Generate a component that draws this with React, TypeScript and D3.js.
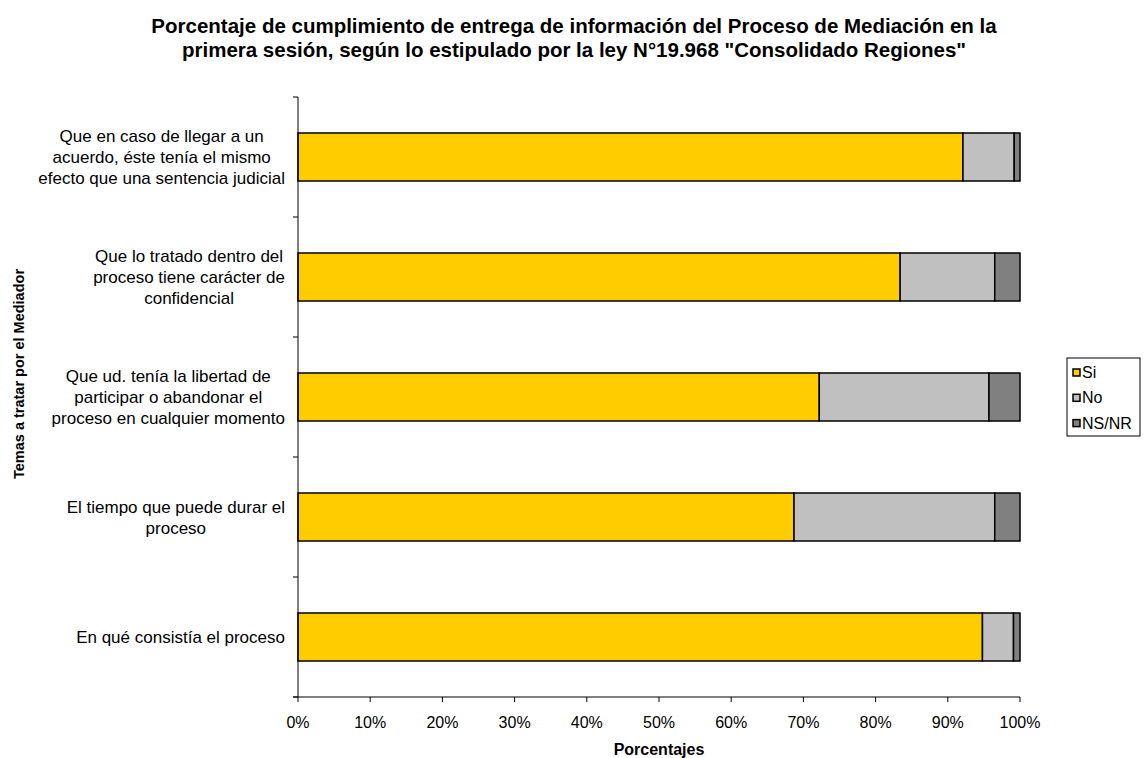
import React from "react";
import * as d3 from "d3";

const categories = [
  ["Que en caso de llegar a un", "acuerdo, éste tenía el mismo", "efecto que una sentencia judicial"],
  ["Que lo tratado dentro del", "proceso tiene carácter de", "confidencial"],
  ["Que ud. tenía la libertad de", "participar o abandonar el", "proceso en cualquier momento"],
  ["El tiempo que puede durar el", "proceso"],
  ["En qué consistía el proceso"],
];
const siValues = [92.1, 83.4, 72.2, 68.7, 94.8];
const noValues = [7.1, 13.1, 23.5, 27.8, 4.3];
const nsnrValues = [0.8, 3.5, 4.3, 3.5, 0.9];
const seriesNames = ["Si", "No", "NS/NR"];
const seriesColors = ["#FFCC00", "#C0C0C0", "#808080"];
const xTicks = [0, 10, 20, 30, 40, 50, 60, 70, 80, 90, 100];
const titleLines = [
  "Porcentaje de cumplimiento de entrega de información del Proceso de Mediación en la",
  'primera sesión, según lo estipulado por la ley N°19.968 "Consolidado Regiones"',
];

const FONT = "'Liberation Sans', Arimo, Arial, sans-serif";
const LABEL_SIZE = 17;

function measure(text: string, size: number): number {
  const c = document.createElement("canvas").getContext("2d");
  if (!c) return text.length * size * 0.5;
  c.font = `${size}px ${FONT}`;
  return c.measureText(text).width;
}

export default function App() {
  const W = 1148, H = 758;
  const left = 298, right = 1020, top = 97, bottom = 697;
  const x = d3.scaleLinear().domain([0, 100]).range([left, right]);
  const idx = categories.map((_, i) => i);
  const y = d3.scaleBand<number>().domain(idx).range([top, bottom]).paddingInner(0.6).paddingOuter(0.3);
  const step = y.step();
  const rows = idx.map((i) => ({ i, Si: siValues[i], No: noValues[i], NSNR: nsnrValues[i] }));
  const stack = d3.stack<any>().keys(["Si", "No", "NSNR"])(rows);
  const yTickPos = d3.range(categories.length + 1).map((k) => top + k * step);
  const labelRight = 285;

  return (
    <svg width={W} height={H} style={{ position: "absolute", left: 0, top: 0, background: "#fff" }} fontFamily={FONT}>
      {titleLines.map((t, k) => (
        <text key={k} x={574} y={33 + k * 24} textAnchor="middle" fontSize={20.5} fontWeight="bold">{t}</text>
      ))}
      {stack.map((s, si) =>
        s.map((d, j) => (
          <rect key={si + "-" + j} x={x(d[0])} y={y(j)!} width={x(d[1]) - x(d[0])} height={y.bandwidth()}
            fill={seriesColors[si]} stroke="#000" strokeWidth={1.5} />
        ))
      )}
      <line x1={left} x2={left} y1={top} y2={bottom} stroke="#000" strokeWidth={1} />
      {yTickPos.map((p, k) => (
        <line key={k} x1={left - 5} x2={left} y1={p} y2={p} stroke="#000" />
      ))}
      <line x1={left - 5} x2={right} y1={bottom} y2={bottom} stroke="#000" />
      {xTicks.map((t) => (
        <g key={t}>
          <line x1={x(t)} x2={x(t)} y1={bottom} y2={bottom + 5} stroke="#000" />
          <text x={x(t)} y={728} textAnchor="middle" fontSize={16}>{t}%</text>
        </g>
      ))}
      {categories.map((lines, i) => {
        const cy = y(i)! + y.bandwidth() / 2;
        const lh = 21;
        const start = cy - ((lines.length - 1) * lh) / 2;
        const maxW = Math.max(...lines.map((l) => measure(l, LABEL_SIZE)));
        const cx = labelRight - maxW / 2;
        return lines.map((l, k) => (
          <text key={i + "-" + k} x={cx} y={start + k * lh + 6} textAnchor="middle" fontSize={LABEL_SIZE}>{l}</text>
        ));
      })}
      <text x={659} y={755} textAnchor="middle" fontSize={16} fontWeight="bold">Porcentajes</text>
      <text transform="translate(24,374) rotate(-90)" textAnchor="middle" fontSize={14.5} fontWeight="bold">Temas a tratar por el Mediador</text>
      <rect x={1067} y={358} width={73} height={78} fill="#fff" stroke="#000" strokeWidth={1} />
      {seriesNames.map((n, k) => (
        <g key={n}>
          <rect x={1073} y={369 + k * 25.3} width={7} height={7} fill={seriesColors[k]} stroke="#000" strokeWidth={1.5} />
          <text x={1082} y={378 + k * 25.3} fontSize={16}>{n}</text>
        </g>
      ))}
    </svg>
  );
}
